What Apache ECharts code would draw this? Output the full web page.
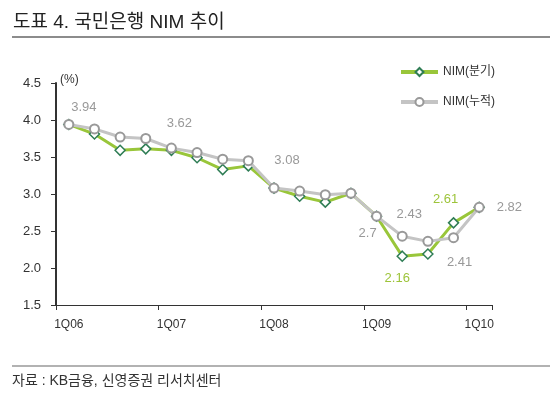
<!DOCTYPE html>
<html><head><meta charset="utf-8">
<script src="https://cdn.jsdelivr.net/npm/echarts@6/dist/echarts.min.js"></script>
<style>html,body{margin:0;padding:0;background:#fff}#c{width:550px;height:396px}</style>
</head><body><div id="c"></div>
<script>
const categories = ['1Q06','2Q06','3Q06','4Q06','1Q07','2Q07','3Q07','4Q07','1Q08','2Q08','3Q08','4Q08','1Q09','2Q09','3Q09','4Q09','1Q10'];
const nimQuarterly = [3.94,3.81,3.59,3.61,3.59,3.49,3.33,3.38,3.08,2.97,2.89,3.01,2.70,2.16,2.19,2.61,2.82];
const nimCumulative = [3.94,3.88,3.77,3.75,3.62,3.56,3.47,3.45,3.08,3.04,2.99,3.01,2.70,2.43,2.36,2.41,2.82];
const yTicks = [1.5,2.0,2.5,3.0,3.5,4.0,4.5];
const titleText = '도표 4. 국민은행 NIM 추이';
const sourceText = '자료 : KB금융, 신영증권 리서치센터';

const FONT = '"Liberation Sans", Arial, "Noto Sans CJK KR", sans-serif';
// label placement per shown point (styling only)
const grayLabels = {0:{position:'top',offset:[15,0]},4:{position:'top',offset:[8,-8]},8:{position:'top',offset:[13,-11]},12:{position:'bottom',offset:[-9,0]},13:{position:'top',offset:[7,-5]},15:{position:'bottom',offset:[6,8]},16:{position:'right',distance:12}};
const greenLabels = {13:{position:'bottom',offset:[-5,5]},15:{position:'top',offset:[-8,-6]}};

function build(vals, cfg, color){
  return vals.map((v,i)=>{
    if(cfg[i]) return {value:v,label:Object.assign({show:true,color:color,fontSize:13,fontFamily:FONT,formatter:(p)=>String(+p.value)},cfg[i])};
    return {value:v};
  });
}

const chart = echarts.init(document.getElementById('c'));
chart.setOption({
  animation:false,
  backgroundColor:'#fff',
  textStyle:{fontFamily:FONT},
  grid:{left:56,right:58,top:83,bottom:91},
  legend:{orient:'vertical',left:394,top:61,itemWidth:37,itemHeight:10,itemGap:18,
    lineStyle:{width:4},
    textStyle:{fontSize:12,color:'#333',fontFamily:FONT},
    data:['NIM(분기)','NIM(누적)']},
  xAxis:{type:'category',data:categories,boundaryGap:true,
    axisLine:{lineStyle:{color:'#333',width:1}},
    axisTick:{show:true,interval:3,length:5,lineStyle:{color:'#333'}},
    axisLabel:{interval:3,color:'#333',fontSize:12,margin:14,fontFamily:FONT},
    splitLine:{show:false}},
  yAxis:{type:'value',min:yTicks[0],max:yTicks[yTicks.length-1],interval:0.5,
    axisLine:{show:true,lineStyle:{color:'#333',width:2}},
    axisTick:{show:true,length:5,lineStyle:{color:'#333'}},
    axisLabel:{color:'#333',fontSize:13,margin:15,fontFamily:FONT,formatter:v=>v.toFixed(1)},
    splitLine:{show:false}},
  graphic:[
    {type:'text',left:13,top:13,style:{text:titleText,fontSize:19,fill:'#222',fontFamily:FONT}},
    {type:'line',shape:{x1:12,y1:37,x2:550,y2:37},style:{stroke:'#8c8c8c',lineWidth:2}},
    {type:'text',left:60,top:74,style:{text:'(%)',fontSize:12,fill:'#333',fontFamily:FONT}},
    {type:'line',shape:{x1:12,y1:366,x2:550,y2:366},style:{stroke:'#999',lineWidth:1.5}},
    {type:'text',left:12,top:374,style:{text:sourceText,fontSize:14,fill:'#333',fontFamily:FONT}}
  ],
  series:[
    {name:'NIM(분기)',type:'line',data:build(nimQuarterly,greenLabels,'#9dc43a'),
      symbol:'diamond',symbolSize:10,showAllSymbol:true,
      lineStyle:{color:'#99c63a',width:3},
      itemStyle:{color:'#fff',borderColor:'#2f7d55',borderWidth:1.5},
      emphasis:{disabled:true},z:2},
    {name:'NIM(누적)',type:'line',data:build(nimCumulative,grayLabels,'#999'),
      symbol:'circle',symbolSize:9,showAllSymbol:true,
      lineStyle:{color:'#c4c4c4',width:3},
      itemStyle:{color:'#fff',borderColor:'#999',borderWidth:2},
      emphasis:{disabled:true},z:3}
  ]
});
</script></body></html>
